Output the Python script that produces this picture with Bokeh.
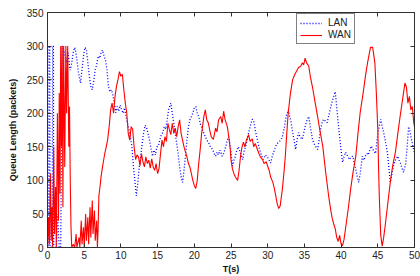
from bokeh.plotting import figure
from bokeh.models import LinearAxis, Range1d, FixedTicker, Legend, LegendItem
from bokeh.embed import file_html
from bokeh.resources import INLINE

# ---- data ----
wan_t = [0, 0.15, 0.25, 0.4, 0.5, 0.6, 0.7, 0.85, 0.95, 1.1, 1.2, 1.35, 1.5, 1.6, 1.7, 1.8, 1.9, 2.0, 2.1, 2.2,
         2.35, 2.5, 2.6, 2.75, 2.9, 3.0, 3.1, 3.2, 3.3, 3.5, 3.7, 3.9, 4.0, 4.3, 4.4, 4.6, 4.7, 4.9, 5.0, 5.2,
         5.3, 5.5, 5.6, 5.8, 5.9, 6.1, 6.2, 6.4, 6.5, 6.7, 6.8, 6.9, 7.0, 7.2, 7.3, 7.5, 7.6, 7.8, 8.0, 8.2,
         8.4, 8.6, 8.8, 9.0, 9.2, 9.4, 9.6, 9.8, 10.0, 10.2, 10.4, 10.6, 10.8, 11.0, 11.2, 11.4, 11.6, 11.8, 12.0, 12.2,
         12.4, 12.6, 12.8, 13.0, 13.2, 13.4, 13.6, 13.8, 14.0, 14.2, 14.4, 14.6, 14.8, 15.0, 15.2, 15.4, 15.6, 15.8, 16.0, 16.2,
         16.4, 16.6, 16.8, 17.0, 17.2, 17.4, 17.6, 17.8, 18.0, 18.2, 18.4, 18.6, 18.8, 19.0, 19.2, 19.4, 19.6, 19.8, 20.0, 20.2,
         20.4, 20.6, 20.8, 21.0, 21.3, 21.5, 21.7, 21.9, 22.1, 22.3, 22.6, 22.9, 23.1, 23.3, 23.6, 23.8, 24.0, 24.2, 24.5, 24.7,
         24.9, 25.0, 25.2, 25.4, 25.6, 25.9, 26.1, 26.3, 26.5, 26.7, 26.9, 27.1, 27.4, 27.6, 27.9, 28.1, 28.3, 28.6, 28.8, 29.0,
         29.3, 29.5, 29.8, 30.0, 30.2, 30.4, 30.7, 30.9, 31.1, 31.3, 31.5, 31.7, 32.0, 32.2, 32.4, 32.6, 32.8, 33.1, 33.4, 33.7,
         34.0, 34.2, 34.5, 34.7, 34.9, 35.1, 35.3, 35.6, 35.8, 36.1, 36.4, 36.8, 37.1, 37.5, 37.9, 38.3, 38.6, 38.8, 39.0, 39.2,
         39.4, 39.6, 39.8, 40.0, 40.2, 40.4, 40.6, 41.0, 41.3, 41.6, 42.0, 42.3, 42.6, 43.0, 43.3, 43.6, 44.0, 44.3, 44.6, 44.8,
         45.0, 45.1, 45.2, 45.4, 45.6, 45.8, 46.0, 46.3, 46.7, 47.0, 47.4, 47.8, 48.1, 48.5, 48.7, 48.9, 49.1, 49.3, 49.5, 49.7,
         49.9, 50.0]
wan_q = [0, 45, 5, 110, 10, 60, 0, 150, 20, 90, 0, 200, 40, 230, 80, 300, 150, 300, 60, 300,
         120, 300, 200, 300, 150, 210, 100, 30, 0, 5, 0, 20, 0, 15, 0, 40, 5, 30, 0, 50,
         10, 45, 5, 60, 15, 70, 20, 55, 10, 40, 0, 30, 77, 95, 106, 120, 127, 140, 150, 161,
         180, 205, 215, 200, 225, 240, 250, 262, 255, 258, 235, 215, 200, 170, 160, 180, 176, 150, 131, 138,
         135, 122, 140, 128, 120, 135, 125, 130, 118, 132, 120, 115, 125, 110, 118, 140, 160, 150, 165, 158,
         185, 176, 168, 185, 170, 178, 165, 180, 190, 170, 160, 150, 142, 135, 125, 120, 110, 100, 92, 88,
         100, 125, 146, 170, 195, 205, 190, 186, 175, 165, 161, 178, 172, 190, 195, 185, 203, 190, 180, 165,
         146, 130, 117, 110, 105, 100, 115, 136, 150, 157, 150, 160, 168, 158, 162, 150, 155, 146, 140, 135,
         131, 125, 128, 121, 115, 105, 97, 88, 77, 65, 58, 62, 87, 110, 136, 170, 201, 230, 250, 258,
         264, 268, 270, 275, 272, 282, 275, 270, 255, 239, 220, 195, 175, 151, 112, 77, 55, 43, 35, 28,
         15, 9, 18, 5, 3, 12, 28, 60, 87, 110, 136, 170, 201, 230, 254, 275, 298, 298, 275, 230,
         176, 120, 77, 18, 2, 15, 32, 60, 97, 120, 142, 176, 200, 230, 245, 239, 215, 225, 205, 210,
         186, 180]

lan_t = [0, 0.15, 0.2, 0.3, 0.35, 0.65, 0.7, 0.8, 0.85, 1.2, 1.4, 1.5, 1.6, 1.8, 1.9, 2.0, 2.2, 2.4, 2.6, 2.8,
         3.0, 3.1, 3.3, 3.5, 3.7, 3.8, 4.0, 4.2, 4.4, 4.5, 4.7, 4.9, 5.1, 5.3, 5.5, 5.7, 5.9, 6.1, 6.3, 6.5,
         6.7, 6.9, 7.1, 7.3, 7.5, 7.7, 7.9, 8.1, 8.3, 8.5, 8.7, 8.9, 9.1, 9.3, 9.5, 9.7, 9.9, 10.1, 10.3, 10.5,
         10.7, 10.9, 11.1, 11.3, 11.5, 11.7, 11.9, 12.1, 12.3, 12.5, 12.7, 12.9, 13.1, 13.3, 13.5, 13.7, 13.9, 14.1, 14.3, 14.5,
         14.7, 14.9, 15.1, 15.3, 15.5, 15.7, 15.9, 16.1, 16.3, 16.5, 16.7, 16.8, 17.0, 17.2, 17.4, 17.6, 17.8, 18.0, 18.2, 18.4,
         18.6, 18.8, 19.0, 19.2, 19.4, 19.6, 19.8, 20.0, 20.2, 20.4, 20.6, 20.8, 21.1, 21.3, 21.5, 21.7, 21.9, 22.2, 22.5, 22.7,
         22.9, 23.1, 23.3, 23.5, 23.8, 24.0, 24.3, 24.5, 24.7, 24.9, 25.0, 25.2, 25.4, 25.6, 25.8, 26.0, 26.3, 26.6, 26.8, 27.0,
         27.2, 27.4, 27.6, 27.9, 28.1, 28.3, 28.6, 28.8, 29.0, 29.2, 29.4, 29.7, 30.0, 30.2, 30.4, 30.6, 30.8, 31.1, 31.3, 31.5,
         31.8, 32.0, 32.3, 32.5, 32.7, 32.8, 33.0, 33.2, 33.4, 33.6, 33.8, 34.0, 34.2, 34.4, 34.7, 34.9, 35.1, 35.3, 35.6, 35.8,
         36.1, 36.3, 36.5, 36.8, 37.0, 37.2, 37.4, 37.6, 37.9, 38.1, 38.4, 38.6, 38.8, 39.0, 39.2, 39.4, 39.6, 39.8, 40.0, 40.2,
         40.4, 40.6, 40.9, 41.1, 41.4, 41.6, 41.8, 42.0, 42.2, 42.4, 42.6, 42.9, 43.1, 43.3, 43.5, 43.7, 43.9, 44.1, 44.4, 44.7,
         44.9, 45.1, 45.4, 45.6, 45.8, 46.0, 46.3, 46.5, 46.7, 46.9, 47.1, 47.4, 47.7, 47.9, 48.1, 48.3, 48.5, 48.8, 49.0, 49.2,
         49.4, 49.6, 49.8, 50.0]
lan_q = [0, 0, 300, 300, 0, 0, 300, 300, 0, 0, 50, 20, 0, 0, 150, 300, 295, 285, 275, 290,
         270, 264, 275, 290, 298, 295, 280, 262, 250, 245, 265, 285, 298, 295, 275, 255, 240, 235, 248, 265,
         272, 285, 282, 290, 294, 285, 279, 265, 240, 232, 235, 228, 215, 201, 210, 203, 212, 205, 200, 208,
         195, 185, 176, 165, 150, 121, 100, 77, 95, 120, 136, 155, 171, 182, 178, 170, 160, 148, 136, 145,
         138, 150, 151, 160, 168, 171, 180, 176, 190, 205, 212, 215, 200, 186, 170, 155, 140, 120, 105, 97,
         115, 136, 160, 180, 190, 195, 200, 208, 210, 200, 195, 185, 176, 170, 165, 160, 157, 150, 146, 140,
         136, 142, 138, 145, 136, 140, 151, 160, 165, 150, 142, 121, 130, 136, 145, 150, 140, 131, 145, 150,
         160, 171, 180, 191, 188, 175, 160, 150, 142, 136, 131, 138, 134, 130, 126, 135, 142, 151, 155, 157,
         160, 165, 180, 195, 201, 205, 195, 186, 171, 160, 146, 160, 171, 165, 161, 170, 180, 188, 195, 180,
         161, 155, 151, 146, 160, 176, 185, 191, 188, 186, 200, 210, 218, 225, 232, 210, 186, 165, 145, 127,
         135, 142, 136, 131, 135, 136, 125, 117, 105, 97, 110, 136, 130, 136, 140, 138, 145, 151, 145, 140,
         160, 176, 191, 180, 171, 160, 142, 120, 97, 108, 120, 130, 136, 130, 125, 118, 112, 125, 150, 180,
         172, 160, 150, 140]

x_ticks = [0, 5, 10, 15, 20, 25, 30, 35, 40, 45, 50]
y_ticks = [0, 50, 100, 150, 200, 250, 300, 350]

FONT = "Liberation Sans"
AX = "#303030"

p = figure(width=420, height=276, x_range=Range1d(0, 50), y_range=Range1d(0, 350),
           output_backend="svg", toolbar_location=None,
           min_border_left=47, min_border_right=6, min_border_top=12, min_border_bottom=27,
           x_axis_label="T(s)", y_axis_label="Queue Length (packets)")
p.grid.visible = False
p.outline_line_color = AX
p.background_fill_color = "white"

for ax, ticks in ((p.xaxis[0], x_ticks), (p.yaxis[0], y_ticks)):
    ax.ticker = FixedTicker(ticks=ticks)
    ax.major_tick_in = 4
    ax.major_tick_out = 0
    ax.minor_tick_line_color = None
    ax.axis_line_color = AX
    ax.major_tick_line_color = AX
    ax.major_label_text_font = FONT
    ax.major_label_text_font_size = "10px"
    ax.major_label_text_color = "#222222"
    ax.axis_label_text_font = FONT
    ax.axis_label_text_font_size = "9px"
    ax.axis_label_text_font_style = "bold"
    ax.axis_label_text_color = "#111111"
p.xaxis[0].major_label_standoff = 3
p.xaxis[0].axis_label_standoff = 2
p.yaxis[0].major_label_standoff = 4
p.yaxis[0].axis_label_standoff = 6

top = LinearAxis(ticker=FixedTicker(ticks=x_ticks))
right = LinearAxis(ticker=FixedTicker(ticks=y_ticks))
for ax in (top, right):
    ax.major_tick_in = 4
    ax.major_tick_out = 0
    ax.minor_tick_line_color = None
    ax.axis_line_color = AX
    ax.major_tick_line_color = AX
    ax.major_label_text_color = None
    ax.major_label_text_font_size = "1px"
    ax.major_label_standoff = 0
p.add_layout(top, "above")
p.add_layout(right, "right")

r_lan = p.line(lan_t, lan_q, line_color="#0000FF", line_width=1.3, line_dash="1 2")
r_wan = p.line(wan_t, wan_q, line_color="#FF0000", line_width=1.1)

legend = Legend(items=[LegendItem(label="LAN", renderers=[r_lan]),
                       LegendItem(label="WAN", renderers=[r_wan])],
                location=(249, 203))
legend.label_text_font = FONT
legend.label_text_font_size = "10px"
legend.label_text_color = "#222222"
legend.glyph_width = 22
legend.glyph_height = 10
legend.label_height = 10
legend.label_standoff = 6
legend.spacing = 1
legend.padding = 3
legend.margin = 0
legend.border_line_color = "#000000"
legend.border_line_width = 1
legend.background_fill_color = "white"
p.add_layout(legend, "center")

open("out.html", "w").write(file_html(p, INLINE))
